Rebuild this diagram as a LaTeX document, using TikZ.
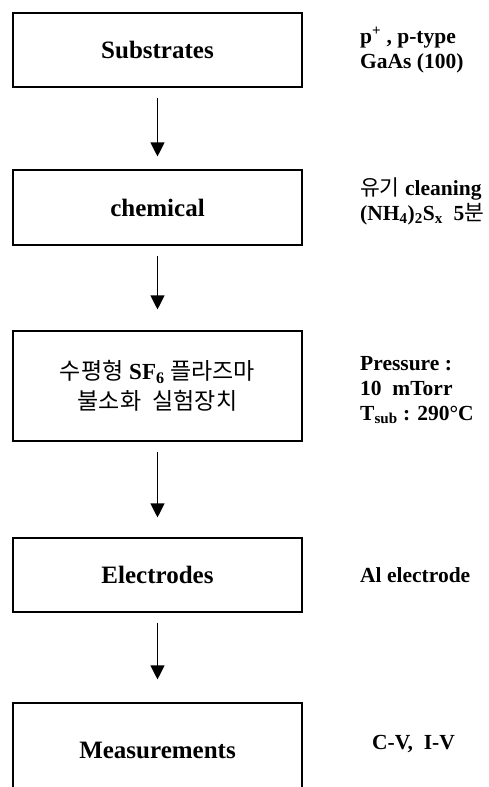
\documentclass[tikz,border=0pt]{standalone}
\usepackage{fontspec}
\setmainfont{Liberation Serif}
\newfontfamily\krfont{Noto Sans CJK KR}
\usetikzlibrary{arrows.meta}
\newcommand{\krtxt}[1]{{\krfont\mdseries #1}}
\tikzset{
  nd_box/.style={
    rectangle, draw=black, line width=1.1pt,
    minimum width=289pt, inner sep=0pt,
    align=center, font=\fontsize{25}{28}\selectfont\bfseries},
  nd_note/.style={
    anchor=west, align=left, inner sep=0pt,
    font=\fontsize{21.5}{25}\selectfont\bfseries},
  arr/.style={-{Triangle[length=14pt,width=14pt]},line width=1.1pt},
}

\begin{document}
\begin{tikzpicture}[x=1pt,y=1pt]
\useasboundingbox (0,0) rectangle (489,-787);
\clip (0,0) rectangle (489,-787);

\def\cx{157.5}\def\nx{360}

%% process steps
\node[nd_box,minimum height=74pt]  at (\cx,-50)   (B1){Substrates};
\node[nd_box,minimum height=75pt]  at (\cx,-207.5)(B2){chemical};
\node[nd_box,minimum height=110pt,
      font=\fontsize{23}{30}\selectfont\bfseries]
                                   at (\cx,-386)  (B3){\krtxt{수평형} SF\textsubscript{6} \krtxt{플라즈마}\\
                                                       \krtxt{불소화\enspace 실험장치}};
\node[nd_box,minimum height=74pt]  at (\cx,-575)  (B4){Electrodes};
\node[nd_box,minimum height=94pt]  at (\cx,-750)  (B5){Measurements};

%% conditions
\node[nd_note] at (\nx,-50)  (L1){p\textsuperscript{+} , p-type\\GaAs (100)};
\node[nd_note] at (\nx,-201) (L2){\krtxt{유기} cleaning\\
                                  (NH\textsubscript{4})\textsubscript{2}S\textsubscript{x}\enspace 5\krtxt{분}};
\node[nd_note] at (\nx,-390) (L3){Pressure :\\10\enspace mTorr\\T\textsubscript{sub} : 290\textdegree C};
\node[nd_note] at (\nx,-575) (L4){Al electrode};
\node[nd_note] at (372,-744) (L5){C-V,\enspace I-V};

\foreach \a/\b/\s in {B1/B2/13,B2/B3/21,B3/B4/20,B4/B5/23}
  {\draw[arr,shorten <=10pt,shorten >=\s pt] (\a) -- (\b);}

\end{tikzpicture}
\end{document}
